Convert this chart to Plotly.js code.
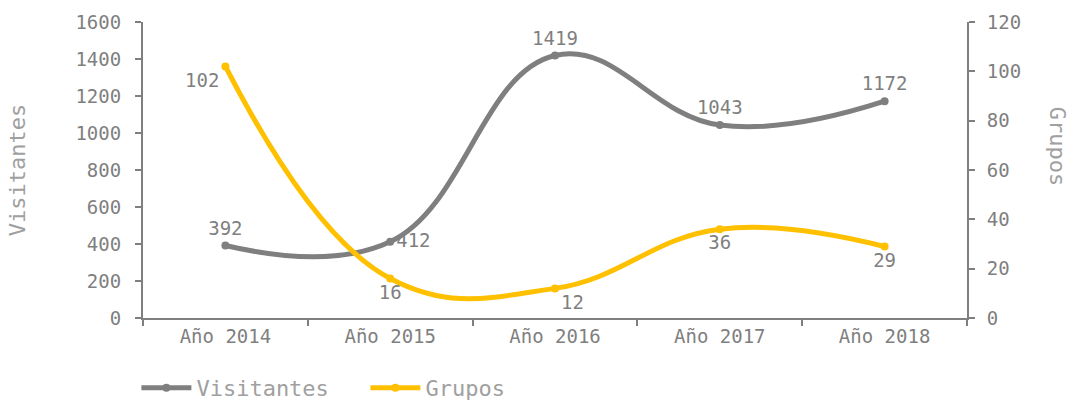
<!DOCTYPE html>
<html><head><meta charset="utf-8">
<script src="https://cdn.plot.ly/plotly-3.0.1.min.js"></script>
<style>html,body{margin:0;padding:0;background:#fff;}#chart{width:1069px;height:400px;}</style>
</head><body><div id="chart"></div>
<script>
const categories = ["Año 2014","Año 2015","Año 2016","Año 2017","Año 2018"];
const visitantes = [392, 412, 1419, 1043, 1172];
const grupos = [102, 16, 12, 36, 29];
const visitantesPos = ["top center","middle right","top center","top center","top center"];
const gruposPos = ["bottom left","bottom center","bottom right","bottom center","bottom center"];

const gray = "#7f7f7f";
const yellow = "#ffc000";
const fontFam = "DejaVu Sans Mono, monospace";

const traces = [
  {x: categories, y: visitantes, name: "Visitantes", type: "scatter", mode: "lines+markers+text",
   line: {color: gray, width: 5, shape: "spline", smoothing: 1.2},
   marker: {color: gray, size: 8, symbol: "circle"},
   text: visitantes.map(String), textposition: visitantesPos,
   textfont: {family: fontFam, size: 19, color: gray}, cliponaxis: false, yaxis: "y"},
  {x: categories, y: grupos, name: "Grupos", type: "scatter", mode: "lines+markers+text",
   line: {color: yellow, width: 5, shape: "spline", smoothing: 1.2},
   marker: {color: yellow, size: 8, symbol: "circle"},
   text: grupos.map(String), textposition: gruposPos,
   textfont: {family: fontFam, size: 19, color: gray}, cliponaxis: false, yaxis: "y2"}
];

const layout = {
  width: 1069, height: 400,
  margin: {l: 143, r: 102, t: 22, b: 82, autoexpand: false},
  paper_bgcolor: "#fff", plot_bgcolor: "#fff",
  font: {family: fontFam, size: 19, color: gray},
  showlegend: true,
  legend: {orientation: "h", x: -0.008, xanchor: "left", y: -0.236, yanchor: "middle",
           font: {family: fontFam, size: 22, color: "#a0a0a0"}, entrywidth: 164, entrywidthmode: "pixels",
           itemwidth: 50, traceorder: "normal"},
  xaxis: {type: "category", range: [-0.5, 4.5], showline: true, linecolor: gray, linewidth: 2,
          ticks: "outside", tickson: "boundaries", ticklen: 6, tickcolor: gray, tickwidth: 2,
          showgrid: false, zeroline: false, tickfont: {family: fontFam, size: 19, color: gray}},
  yaxis: {range: [0, 1600], dtick: 200, showline: true, linecolor: gray, linewidth: 2,
          ticks: "outside", ticklen: 6, tickcolor: gray, tickwidth: 2, showgrid: false, zeroline: false,
          tickfont: {family: fontFam, size: 19, color: gray}, ticklabelstandoff: 10,
          title: {text: "Visitantes", font: {family: fontFam, size: 22, color: "#a0a0a0"}, standoff: 44}},
  yaxis2: {range: [0, 120], dtick: 20, overlaying: "y", side: "right", anchor: "x",
           showline: true, linecolor: gray, linewidth: 2,
           ticks: "outside", ticklen: 6, tickcolor: gray, tickwidth: 2, showgrid: false, zeroline: false,
           tickfont: {family: fontFam, size: 19, color: gray}, ticklabelstandoff: 8},
  yaxis3: {range: [0, 120], dtick: 20, overlaying: "y", side: "right", anchor: "x",
           showline: false, ticks: "inside", ticklen: 6, tickcolor: gray, tickwidth: 2,
           showticklabels: false, showgrid: false, zeroline: false},
  annotations: [{text: "Grupos", textangle: 90, xref: "paper", yref: "paper", x: 1.11, y: 0.58,
                 xanchor: "center", yanchor: "middle", showarrow: false,
                 font: {family: fontFam, size: 22, color: "#a0a0a0"}}]
};

Plotly.newPlot("chart", traces, layout, {displayModeBar: false, staticPlot: true});
</script>
</body></html>
